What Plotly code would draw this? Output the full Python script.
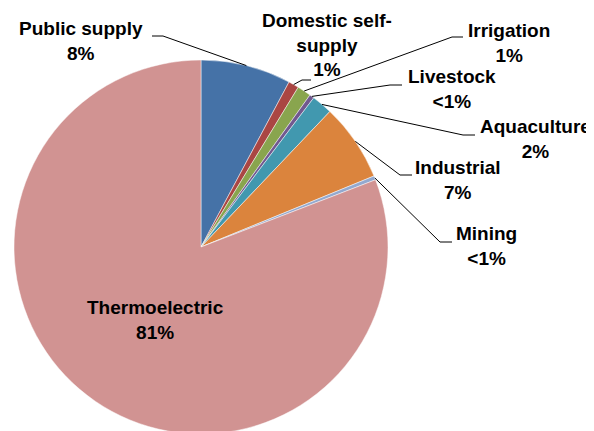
import math
import plotly.graph_objects as go

# ---- data ----
categories = ["Public supply", "Domestic self-supply", "Irrigation", "Livestock",
              "Aquaculture", "Industrial", "Mining", "Thermoelectric"]
values = [7.8, 0.9, 1.2, 0.4, 1.8, 6.7, 0.35, 80.85]
pct_labels = ["8%", "1%", "1%", "<1%", "2%", "7%", "<1%", "81%"]
label_lines = [["Public supply"], ["Domestic self-", "supply"], ["Irrigation"], ["Livestock"],
               ["Aquaculture"], ["Industrial"], ["Mining"], ["Thermoelectric"]]
colors = ["#4572A7", "#AA4643", "#89A54E", "#71588F", "#4198AF", "#DB843D", "#93A9CF", "#D19392"]

# ---- layout (window pixels; page body has an 8px margin) ----
OFF = 8
CX, CY, R = 201, 247, 187
W, H = 594 - OFF, CY + R - OFF   # pie bottom runs just past the window edge, as in the reference
label_pos = [(81, 41), (327, 45), (509, 43), (452, 89), (535, 139), (458, 180), (486, 246), (155, 320)]
leader = [((163, 36), (152, 36)), ((302, 80), (311, 80)), ((452, 37), (463, 37)),
          ((390, 85), (402, 85)), ((463, 135), (475, 135)), ((400, 175), (412, 175)),
          ((440, 242), (452, 242)), None]

def px(x):
    return (x - OFF) / W

def py(y):
    return 1 - (y - OFF) / H

fig = go.Figure(go.Pie(
    labels=categories, values=values, sort=False, direction="clockwise", rotation=0,
    marker=dict(colors=colors, line=dict(color="rgba(255,255,255,0.8)", width=0.6)),
    textinfo="none", hoverinfo="label+percent", showlegend=False,
    domain=dict(x=[px(CX - R), px(CX + R)], y=[max(0, py(CY + R)), py(CY - R)]),
))

total = sum(values)
cum = 0
shapes = []
annotations = []
for i, v in enumerate(values):
    mid = (cum + v / 2) / total * 2 * math.pi
    cum += v
    ex, ey = CX + R * math.sin(mid), CY - R * math.cos(mid)
    if leader[i] is not None:
        (x1, y1), (x2, y2) = leader[i]
        shapes.append(dict(type="path", xref="paper", yref="paper",
                           path=f"M {px(ex)} {py(ey)} L {px(x1)} {py(y1)} L {px(x2)} {py(y2)}",
                           line=dict(color="black", width=1)))
    lx, ly = label_pos[i]
    text = "<br>".join(f"<b>{t}</b>" for t in label_lines[i] + [pct_labels[i]])
    annotations.append(dict(x=px(lx), y=py(ly), xref="paper", yref="paper", text=text,
                            showarrow=False, xanchor="center", yanchor="middle", align="center",
                            font=dict(family="Liberation Sans, Arial", size=19, color="black")))

fig.update_layout(width=W, height=H, margin=dict(l=0, r=0, t=0, b=0),
                  paper_bgcolor="white", plot_bgcolor="white",
                  shapes=shapes, annotations=annotations)
fig.write_html("out.html")
